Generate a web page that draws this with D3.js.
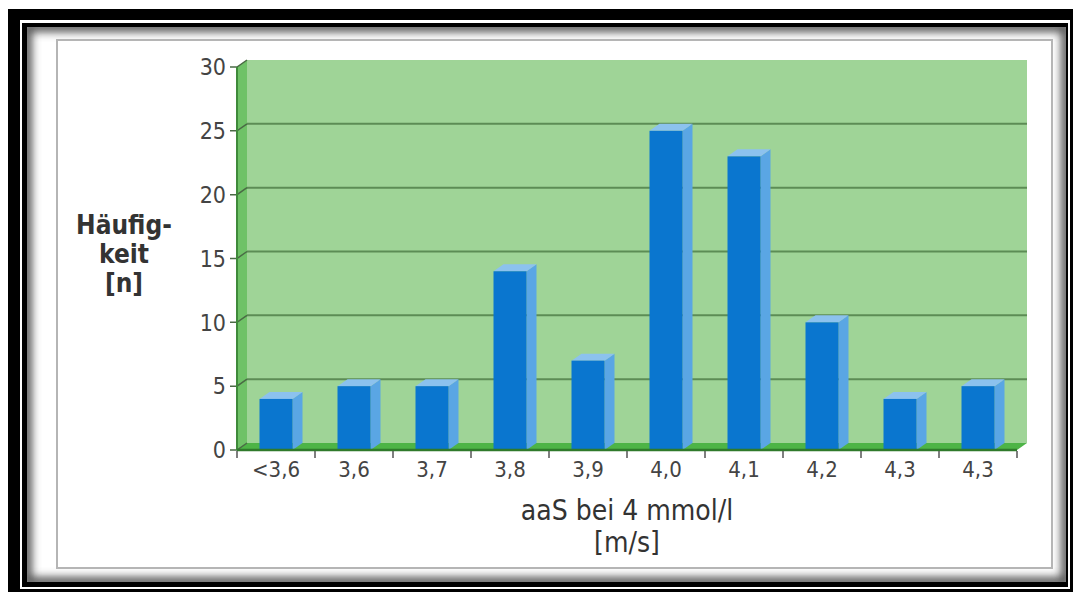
<!DOCTYPE html>
<meta charset="utf-8">
<script src="https://d3js.org/d3.v7.min.js"></script>
<style>
  body { margin: 0; background: #fff; }
  text { font-family: "Liberation Sans Narrow", "DejaVu Sans Condensed", sans-serif; }
</style>
<svg id="chart"></svg>
<script>

// data
var categories = ["<3,6", "3,6", "3,7", "3,8", "3,9", "4,0", "4,1", "4,2", "4,3", "4,3"];
var counts = [4, 5, 5, 14, 7, 25, 23, 10, 4, 5];
var yTicks = [0, 5, 10, 15, 20, 25, 30];
var yTitle = ["Häufig-", "keit", "[n]"];
var xTitle = ["aaS bei 4 mmol/l", "[m/s]"];

var W = 1073, H = 592;
var svg = d3.select("#chart").attr("width", W).attr("height", H);
var defs = svg.append("defs");

// ---- frame ----
svg.append("rect").attr("x", 8).attr("y", 9).attr("width", 1065).attr("height", 583).attr("fill", "#000");
svg.append("rect").attr("x", 20).attr("y", 20).attr("width", 1050).attr("height", 569).attr("fill", "#fff");
svg.append("rect").attr("x", 22).attr("y", 23).attr("width", 1046).attr("height", 564).attr("fill", "#000");

defs.append("clipPath").attr("id", "inner")
  .append("rect").attr("x", 27).attr("y", 27).attr("width", 1039).attr("height", 555);
defs.append("filter").attr("id", "blur").attr("x", "-5%").attr("y", "-5%").attr("width", "110%").attr("height", "110%")
  .append("feGaussianBlur").attr("stdDeviation", 4);

var inner = svg.append("g").attr("clip-path", "url(#inner)");
inner.append("rect").attr("x", 27).attr("y", 27).attr("width", 1039).attr("height", 555).attr("fill", "#fff");
inner.append("rect").attr("x", 27).attr("y", 27).attr("width", 1039).attr("height", 555)
  .attr("fill", "none").attr("stroke", "#555").attr("stroke-width", 10).attr("filter", "url(#blur)");

svg.append("rect").attr("x", 57).attr("y", 40).attr("width", 995).attr("height", 528)
  .attr("fill", "#fff").attr("stroke", "#b5b5b5").attr("stroke-width", 2);

// ---- scales ----
var x0 = 237, x1 = 1017, yBase = 450, yTop = 67;
var dx = 10, dy = -7;   // 3d depth offset

var x = d3.scaleBand().domain(d3.range(categories.length)).range([x0, x1]).padding(0);
var y = d3.scaleLinear().domain([0, 30]).range([yBase, yTop]);

var g = svg.append("g");

// back wall, side wall, floor
g.append("rect").attr("x", x0 + dx).attr("y", y(30) + dy).attr("width", x1 - x0).attr("height", y(0) - y(30))
  .attr("fill", "#9fd497");
g.append("polygon")
  .attr("points", [[x0, y(30)], [x0 + dx, y(30) + dy], [x0 + dx, y(0) + dy], [x0, y(0)]].join(" "))
  .attr("fill", "#6fc267");
g.append("polygon")
  .attr("points", [[x0, y(0)], [x1, y(0)], [x1 + dx, y(0) + dy], [x0 + dx, y(0) + dy]].join(" "))
  .attr("fill", "#4db446");

// grid lines on the wall
g.selectAll(".grid").data(yTicks.filter(function (d) { return d > 0 && d < 30; }))
  .enter().append("line")
  .attr("x1", x0 + dx).attr("x2", x1 + dx)
  .attr("y1", function (d) { return y(d) + dy; }).attr("y2", function (d) { return y(d) + dy; })
  .attr("stroke", "#5c8c55").attr("stroke-width", 2);

// y axis ticks (short mark + diagonal into the wall)
g.selectAll(".ytick").data(yTicks).enter().append("polyline")
  .attr("points", function (d) { return [[x0 - 7, y(d)], [x0, y(d)], [x0 + dx, y(d) + dy]].join(" "); })
  .attr("fill", "none").attr("stroke", "#4a6a45").attr("stroke-width", 1.5);
g.append("line").attr("x1", x0).attr("x2", x0).attr("y1", y(30)).attr("y2", y(0))
  .attr("stroke", "#3f8a3a").attr("stroke-width", 2);

// bars
var bw = 33;
var bars = g.selectAll(".bar").data(counts).enter().append("g");
bars.append("polygon")
  .attr("points", function (d, i) {
    var bx = x(i) + x.bandwidth() / 2 - bw / 2 + bw;
    return [[bx, y(d)], [bx + dx, y(d) + dy], [bx + dx, y(0) + dy], [bx, y(0)]].join(" ");
  })
  .attr("fill", "#5aa6e4");
bars.append("polygon")
  .attr("points", function (d, i) {
    var bx = x(i) + x.bandwidth() / 2 - bw / 2;
    return [[bx, y(d)], [bx + dx, y(d) + dy], [bx + bw + dx, y(d) + dy], [bx + bw, y(d)]].join(" ");
  })
  .attr("fill", "#8cc2ee");
bars.append("rect")
  .attr("x", function (d, i) { return x(i) + x.bandwidth() / 2 - bw / 2; })
  .attr("y", function (d) { return y(d); })
  .attr("width", bw)
  .attr("height", function (d) { return y(0) - y(d); })
  .attr("fill", "#0a76cf");

// x axis line and ticks
g.append("line").attr("x1", x0).attr("x2", x1).attr("y1", y(0)).attr("y2", y(0))
  .attr("stroke", "#2f7a2b").attr("stroke-width", 2.5);
g.selectAll(".xtick").data(d3.range(categories.length + 1)).enter().append("line")
  .attr("x1", function (d) { return x0 + d * x.bandwidth(); })
  .attr("x2", function (d) { return x0 + d * x.bandwidth(); })
  .attr("y1", y(0) + 1).attr("y2", y(0) + 8)
  .attr("stroke", "#555").attr("stroke-width", 1.5);

// tick labels
g.selectAll(".ylab").data(yTicks).enter().append("text")
  .attr("x", 226).attr("y", function (d) { return y(d); })
  .attr("dy", "0.36em").attr("text-anchor", "end")
  .attr("font-size", 23).attr("fill", "#444")
  .text(function (d) { return d; });
g.selectAll(".xlab").data(categories).enter().append("text")
  .attr("x", function (d, i) { return x(i) + x.bandwidth() / 2; })
  .attr("y", 477).attr("text-anchor", "middle")
  .attr("font-size", 22).attr("fill", "#444")
  .text(function (d) { return d; });

// axis titles
g.selectAll(".ytitle").data(yTitle).enter().append("text")
  .attr("x", 124).attr("y", function (d, i) { return 234 + i * 29; })
  .attr("text-anchor", "middle").attr("font-size", 26).attr("font-weight", "bold").attr("fill", "#333")
  .text(function (d) { return d; });
g.selectAll(".xtitle").data(xTitle).enter().append("text")
  .attr("x", 627).attr("y", function (d, i) { return 520 + i * 32; })
  .attr("text-anchor", "middle").attr("font-size", 28).attr("fill", "#333")
  .text(function (d) { return d; });

</script>
